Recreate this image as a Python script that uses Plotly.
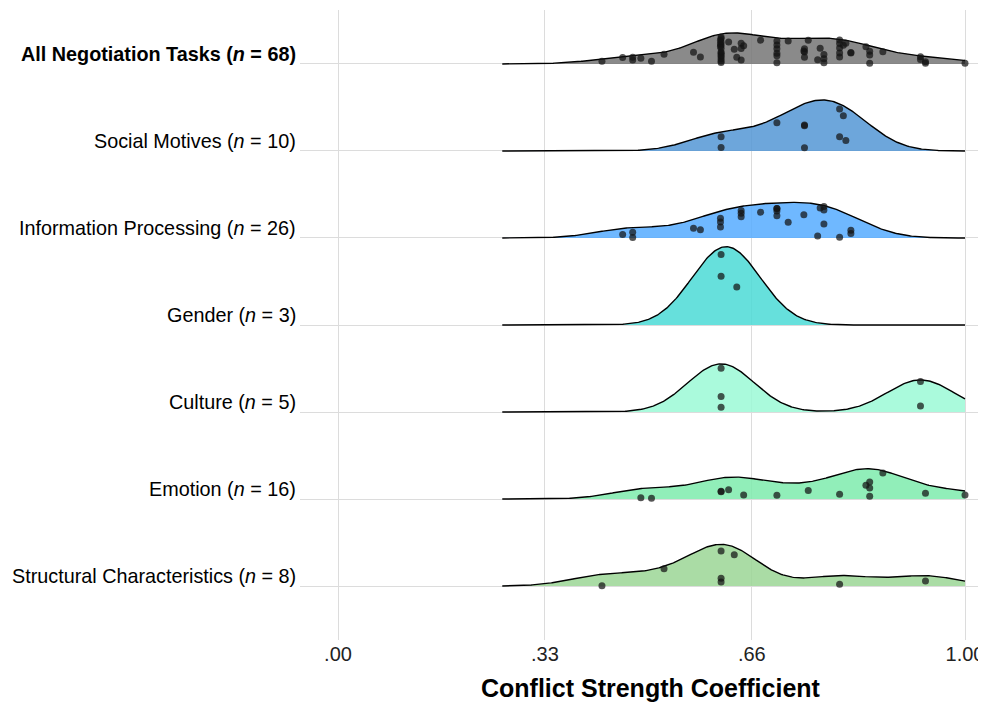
import numpy as np
import plotly.graph_objects as go

# ---------------- data ----------------
CATEGORIES = [
    "All Negotiation Tasks",
    "Social Motives",
    "Information Processing",
    "Gender",
    "Culture",
    "Emotion",
    "Structural Characteristics",
]

SOCIAL = [0.611, 0.611, 0.70, 0.744, 0.744, 0.744, 0.80, 0.80, 0.806, 0.81]
INFO = [0.454, 0.47, 0.47, 0.567, 0.578, 0.61, 0.61, 0.61, 0.643, 0.643, 0.643,
        0.674, 0.70, 0.70, 0.70, 0.70, 0.718, 0.743, 0.769, 0.775, 0.775, 0.775,
        0.765, 0.80, 0.818, 0.818]
GENDER = [0.611, 0.611, 0.636]
CULTURE = [0.611, 0.611, 0.611, 0.929, 0.929]
EMOTION = [0.483, 0.50, 0.611, 0.611, 0.623, 0.647, 0.70, 0.75, 0.80, 0.842,
           0.848, 0.848, 0.848, 0.869, 0.937, 1.0]
STRUCT = [0.421, 0.52, 0.611, 0.611, 0.611, 0.632, 0.80, 0.937]
ALL = SOCIAL + INFO + GENDER + CULTURE + EMOTION + STRUCT

# sina-style jitter: fraction of the local ridge height
SOCIAL_JIT = [0.75, 0.18, 0.84, 0.53, 0.55, 0.07, 0.89, 0.30, 0.78, 0.24]
INFO_JIT = [0.37, 0.55, 0.04, 0.53, 0.40, 0.73, 0.59, 0.41, 0.87, 0.78, 0.67,
            0.76, 0.84, 0.84, 0.77, 0.63, 0.44, 0.66, 0.90, 0.97, 0.86, 0.43,
            0.06, 0.03, 0.35, 0.20]
GENDER_JIT = [0.91, 0.63, 0.51]
CULTURE_JIT = [0.91, 0.32, 0.10, 0.95, 0.19]
EMOTION_JIT = [0.12, 0.06, 0.37, 0.35, 0.42, 0.19, 0.23, 0.50, 0.19, 0.45,
               0.56, 0.36, 0.09, 0.92, 0.40, 0.50]
STRUCT_JIT = [0.02, 0.87, 0.84, 0.19, 0.10, 0.80, 0.18, 0.48]
ALL_JIT = ([0.90, 0.05, 0.88, 0.59, 0.46, 0.26, 0.97, 0.65, 0.78, 0.87] +
           [0.90, 0.83, 0.50, 0.56, 0.29, 0.79, 0.67, 0.58, 0.67, 0.13, 0.50,
            0.85, 0.73, 0.59, 0.41, 0.32, 0.90, 0.50, 0.60, 0.36, 0.20, 0.05,
            0.16, 0.83, 0.48, 0.50] +
           [0.36, 0.17, 0.22] +
           [0.85, 0.62, 0.25, 0.90, 0.55] +
           [0.65, 0.28, 0.40, 0.10, 0.71, 0.60, 0.05, 0.92, 0.44, 0.90, 0.70,
            0.04, 0.50, 0.83, 0.10, 0.20] +
           [0.57, 0.82, 0.72, 0.52, 0.30, 0.47, 0.28, 0.30])

GROUP_VALUES = [ALL, SOCIAL, INFO, GENDER, CULTURE, EMOTION, STRUCT]
GROUP_JITTER = [ALL_JIT, SOCIAL_JIT, INFO_JIT, GENDER_JIT, CULTURE_JIT, EMOTION_JIT, STRUCT_JIT]

TICK_VALS = [0.0, 0.33, 0.66, 1.0]
TICK_TEXT = [".00", ".33", ".66", "1.00"]

# ---------------- styling ----------------
FILLS = [
    "rgba(117,117,117,0.85)",
    "rgba(84,151,213,0.85)",
    "rgba(86,171,255,0.85)",
    "rgba(75,219,214,0.85)",
    "rgba(155,249,214,0.85)",
    "rgba(126,235,173,0.85)",
    "rgba(155,214,149,0.85)",
]
BW = 0.053          # joint bandwidth
SCALE = 0.9         # tallest ridge relative to row spacing
FONT = "Liberation Sans, Arial, sans-serif"


def kde(values, grid, bw):
    v = np.asarray(values)[:, None]
    z = (grid[None, :] - v) / bw
    return np.exp(-0.5 * z ** 2).sum(axis=0) / (len(values) * bw * np.sqrt(2 * np.pi))


x_lo = min(ALL) - 3 * BW
x_hi = min(max(ALL) + 3 * BW, 1.0)
grid = np.linspace(x_lo, x_hi, 400)
dens = [kde(vals, grid, BW) for vals in GROUP_VALUES]
global_max = max(d.max() for d in dens)

n_rows = len(CATEGORIES)
baselines = [n_rows - 1 - i for i in range(n_rows)]

fig = go.Figure()
for i, (vals, jit) in enumerate(zip(GROUP_VALUES, GROUP_JITTER)):
    base = baselines[i]
    h = dens[i] / global_max * SCALE
    top = base + h
    fig.add_trace(go.Scatter(
        x=np.concatenate([grid, grid[::-1]]),
        y=np.concatenate([top, np.full_like(grid, base)]),
        fill="toself", fillcolor=FILLS[i], mode="lines",
        line=dict(width=0), hoverinfo="skip", showlegend=False))
    fig.add_trace(go.Scatter(
        x=grid, y=top, mode="lines",
        line=dict(color="black", width=1.4), hoverinfo="skip", showlegend=False))
    vx = np.asarray(vals)
    vh = kde(vals, vx, BW) / global_max * SCALE
    fig.add_trace(go.Scatter(
        x=vx, y=base + np.asarray(jit) * vh, mode="markers",
        marker=dict(size=7, color="rgba(20,20,20,0.72)"),
        hoverinfo="x", showlegend=False))

# y labels
for i, cat in enumerate(CATEGORIES):
    n = len(GROUP_VALUES[i])
    txt = f"{cat} (<i>n</i> = {n})"
    if i == 0:
        txt = f"<b>{txt}</b>"
    fig.add_annotation(
        x=0, xref="paper", xanchor="right", xshift=-2,
        y=baselines[i], yref="y", yanchor="bottom", yshift=-3,
        text=txt, showarrow=False,
        font=dict(family=FONT, size=19.8, color="black"))

fig.add_annotation(
    x=0.512, xref="paper", y=-0.076, yref="paper", yanchor="middle",
    text="<b>Conflict Strength Coefficient</b>", showarrow=False,
    font=dict(family=FONT, size=25, color="black"))

fig.update_layout(
    width=978, height=696,
    margin=dict(l=292, r=0, t=2, b=64),
    plot_bgcolor="white", paper_bgcolor="white",
    font=dict(family=FONT),
    xaxis=dict(range=[-0.0606, 1.0335], tickvals=TICK_VALS, ticktext=TICK_TEXT,
               showgrid=True, gridcolor="#dcdcdc", gridwidth=1.2, zeroline=False,
               showline=False, ticks="", tickfont=dict(size=20, color="#222"),
               fixedrange=True),
    yaxis=dict(range=[-0.62, 6.62], tickvals=baselines, showticklabels=False,
               showgrid=True, gridcolor="#dcdcdc", gridwidth=1.2, zeroline=False,
               showline=False, ticks="", fixedrange=True),
)

fig.write_html("out.html")
